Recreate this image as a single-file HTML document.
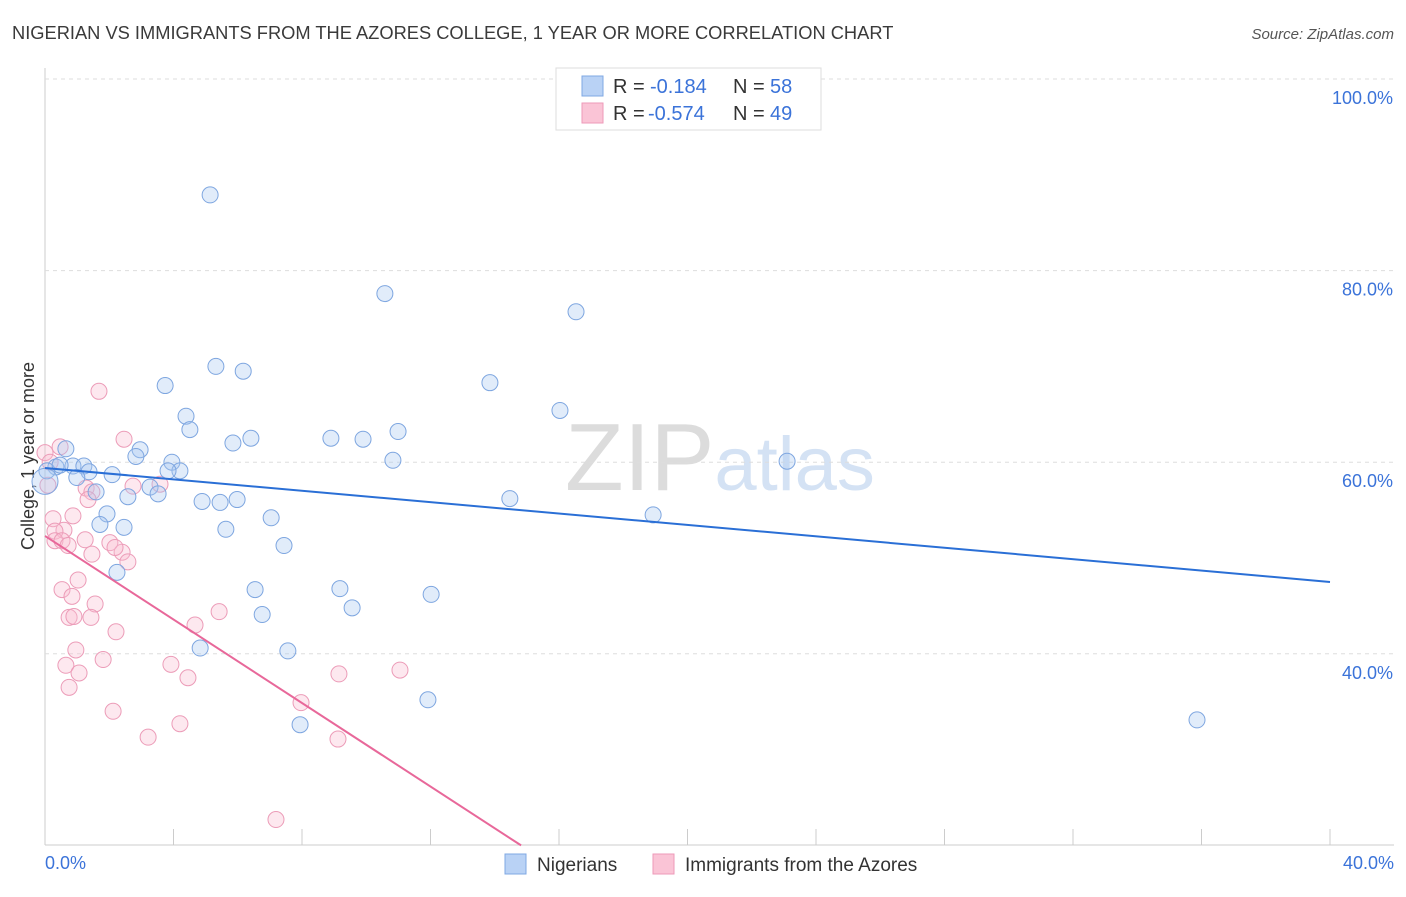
<!DOCTYPE html>
<html><head><meta charset="utf-8"><style>
body{margin:0;background:#fff;font-family:"Liberation Sans",sans-serif;}
svg text{font-family:"Liberation Sans",sans-serif;}
</style></head><body>
<svg id="chart" width="1406" height="892" xmlns="http://www.w3.org/2000/svg">
<text x="12" y="39" font-size="18.3" fill="#3a3a3a">NIGERIAN VS IMMIGRANTS FROM THE AZORES COLLEGE, 1 YEAR OR MORE CORRELATION CHART</text>
<text x="1394" y="39" font-size="15" fill="#555" text-anchor="end" font-style="italic">Source: ZipAtlas.com</text>
<text x="720" y="490" font-size="96" text-anchor="middle" fill="#e4e4e4" font-family="Liberation Serif"><tspan fill="#dcdcdc">ZIP</tspan><tspan fill="#d4e2f4" font-family="Liberation Sans" font-size="76">atlas</tspan></text>
<text transform="translate(34,456) rotate(-90)" font-size="18" fill="#333" text-anchor="middle">College, 1 year or more</text>
<g id="grid"></g><g id="marks"></g>
<g>
<rect x="556" y="68" width="265" height="62" fill="#fff" stroke="#ddd"/>
<rect x="582" y="76" width="21" height="20" fill="#b9d2f5" stroke="#7fa8e3"/>
<rect x="582" y="103" width="21" height="20" fill="#fac4d6" stroke="#ee9ab8"/>
<text x="613" y="93" font-size="20" fill="#333">R =</text>
<text x="650" y="93" font-size="20" fill="#3b73d9">-0.184</text>
<text x="733" y="93" font-size="20" fill="#333">N =</text>
<text x="770" y="93" font-size="20" fill="#3b73d9">58</text>
<text x="613" y="120" font-size="20" fill="#333">R =</text>
<text x="648" y="120" font-size="20" fill="#3b73d9">-0.574</text>
<text x="733" y="120" font-size="20" fill="#333">N =</text>
<text x="770" y="120" font-size="20" fill="#3b73d9">49</text>
</g>
<g>
<rect x="505" y="854" width="21" height="20" fill="#b9d2f5" stroke="#7fa8e3"/>
<text x="537" y="871" font-size="19" fill="#333">Nigerians</text>
<rect x="653" y="854" width="21" height="20" fill="#fac4d6" stroke="#ee9ab8"/>
<text x="685" y="871" font-size="19" fill="#333">Immigrants from the Azores</text>
</g>
</svg>
<script>
const yTicks=[40,60,80,100];
const xTickLabels=["0.0%","40.0%"];
const blueX=[5.14,10.58,16.53,5.32,6.17,3.74,13.85,16.03,4.39,4.51,10.99,6.41,5.85,8.90,9.90,2.96,2.83,0.65,10.83,3.95,4.20,3.83,0.34,0.87,1.21,1.37,2.09,0.99,0.06,23.10,3.27,3.52,2.58,4.89,5.45,5.98,14.47,18.93,1.93,7.04,1.71,2.46,5.63,7.44,2.24,6.54,9.18,12.02,9.56,6.76,4.83,7.56,11.92,7.94,35.86,0.00,1.59,0.47];
const blueY=[87.9,77.6,75.7,70.0,69.5,68.0,68.3,65.4,64.8,63.4,63.2,62.5,62.0,62.5,62.4,61.3,60.6,61.4,60.2,60.0,59.1,59.1,59.5,59.6,59.6,59.0,58.7,58.4,59.1,60.1,57.4,56.7,56.4,55.9,55.8,56.1,56.2,54.5,54.6,54.2,53.5,53.2,53.0,51.3,48.5,46.7,46.8,46.2,44.8,44.1,40.6,40.3,35.2,32.6,33.1,58.0,56.9,59.7];
const pinkX=[1.68,2.46,0.47,0,0.09,1.28,1.46,1.34,0.25,0.87,0.59,0.31,0.31,0.53,1.25,2.02,2.40,1.46,2.58,1.03,0.53,0.84,1.56,0.75,0.90,1.43,2.21,4.67,5.42,0.96,1.81,0.65,1.06,3.92,4.45,0.75,9.15,11.05,2.12,7.97,4.20,3.21,9.12,7.19,2.74,3.58,0.16,2.18,0.72];
const pinkY=[67.4,62.4,61.6,61.0,57.6,57.3,56.9,56.1,54.1,54.4,52.9,52.8,51.8,51.8,51.9,51.6,50.6,50.4,49.6,47.7,46.7,46.0,45.2,43.8,43.9,43.8,42.3,43.0,44.4,40.4,39.4,38.8,38.0,38.9,37.5,36.5,37.9,38.3,34.0,34.9,32.7,31.3,31.1,22.7,57.5,57.7,60.0,51.1,51.3];
const blueFit=[59.4,47.5];
const pinkFit=[52.3,20.0];
const X=v=>45+v*32.125, Y=v=>79+(100-v)*9.58;
const NS="http://www.w3.org/2000/svg";
const grid=document.getElementById('grid'), marks=document.getElementById('marks');
function el(t,a,p){const e=document.createElementNS(NS,t);for(const k in a)e.setAttribute(k,a[k]);p.appendChild(e);return e;}
let ax=el('line',{x1:45,y1:68,x2:45,y2:845,stroke:'#ccc'},grid);


let bx=el('line',{x1:45,y1:845,x2:1394,y2:845,stroke:'#ccc'},grid);


yTicks.forEach(t=>{
 const g=el('line',{x1:45,y1:Y(t),x2:1394,y2:Y(t),stroke:'#ddd','stroke-dasharray':'4,4'},grid);
 
 
 const tx=el('text',{x:1393,y:Y(t)+25,'font-size':18,fill:'#3b73d9','text-anchor':'end'},grid);
 tx.textContent=t.toFixed(1)+'%';
 
 
});
for(let i=0;i<=10;i++){
 const tk=el('line',{x1:X(i*4),y1:829,x2:X(i*4),y2:845,stroke:'#ccc'},grid);
 
 
}
[[0,'start',45],[40,'end',1394]].forEach((d,i)=>{
 const tx=el('text',{x:d[2],y:869,'font-size':18,fill:'#3b73d9','text-anchor':d[1]},grid);
 tx.textContent=xTickLabels[i];
 
 
});
pinkX.forEach((x,i)=>{
 const c=el('circle',{cx:X(x),cy:Y(pinkY[i]),r:8,fill:'rgba(250,190,210,0.35)',stroke:'#ec9cb8','stroke-width':1},marks);
 
 
});
blueX.forEach((x,i)=>{
 const c=el('circle',{cx:X(x),cy:Y(blueY[i]),r:(i==55?13:8),fill:'rgba(170,200,240,0.35)',stroke:'#7ea6e0','stroke-width':1},marks);
 
 
});
const bl=el('line',{x1:X(0),y1:Y(blueFit[0]),x2:X(40),y2:Y(blueFit[1]),stroke:'#2a6fd6','stroke-width':2},marks);


const pxEnd=14.82;
const pl=el('line',{x1:X(0),y1:Y(pinkFit[0]),x2:X(pxEnd),y2:Y(pinkFit[1]),stroke:'#e8689a','stroke-width':2},marks);


</script>
</body></html>
